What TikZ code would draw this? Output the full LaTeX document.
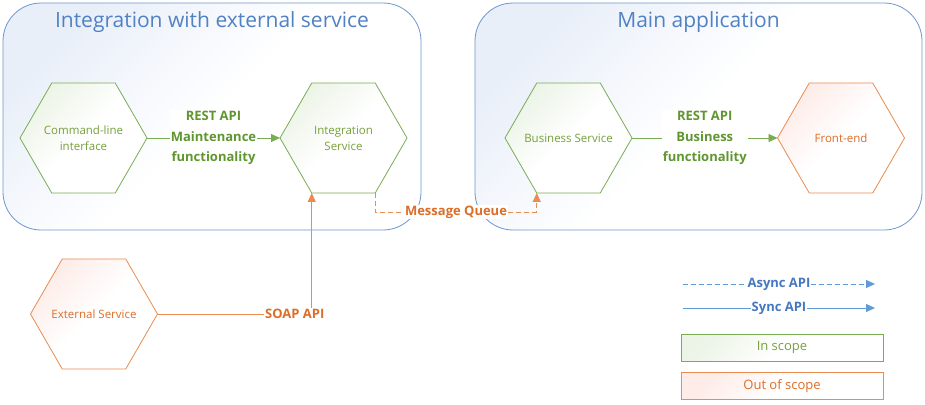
\documentclass[tikz,border=0pt]{standalone}
\usepackage{fontspec}
\setmainfont{Open Sans}
\usetikzlibrary{shapes.geometric,arrows.meta,positioning,calc}
\definecolor{grpblue}{RGB}{110,150,205}
\definecolor{titleblue}{RGB}{80,130,195}
\definecolor{grpfill}{RGB}{233,239,249}
\definecolor{scgreen}{RGB}{122,172,84}
\definecolor{lblgreen}{RGB}{96,150,48}
\definecolor{txtgreen}{RGB}{120,160,60}
\definecolor{scgreenfill}{RGB}{236,244,231}
\definecolor{scorange}{RGB}{232,140,80}
\definecolor{lblorange}{RGB}{220,110,40}
\definecolor{scorangefill}{RGB}{253,236,232}
\definecolor{apiblue}{RGB}{95,155,215}
\definecolor{apitext}{RGB}{70,120,190}

\begin{document}
\begin{tikzpicture}[x=1pt, y=-1pt,
  group/.style={draw=grpblue, line width=0.8pt, rounded corners=38pt, top color=grpfill, bottom color=white, middle color=white, shading angle=45, inner sep=0pt},
  grouptitle/.style={text=titleblue, font=\fontsize{21}{25}\selectfont},
  hexnode/.style={regular polygon, regular polygon sides=6, minimum size=127pt, inner sep=0pt, inner xsep=-25pt, outer sep=0pt, line width=0.8pt, align=center, font=\fontsize{11.5}{16}\selectfont},
  insc/.style={draw=scgreen, text=txtgreen, top color=scgreenfill, bottom color=white, middle color=white, shading angle=45},
  outsc/.style={draw=scorange, text=lblorange, top color=scorangefill, bottom color=white, middle color=white, shading angle=45},
  apilabel/.style={fill=white, inner sep=1pt, font=\bfseries\fontsize{13}{20.5}\selectfont, align=center},
  tip/.style={-{Triangle[length=9pt,width=8pt]}},
]
\useasboundingbox (0,0) rectangle (925,404);

 % groups
 \node[group, minimum width=418pt, minimum height=227pt] (intgrp) at (212,116.5) {};
 \node[group, minimum width=447pt, minimum height=227pt] (maingrp) at (698.5,116.5) {};
 \node[grouptitle] (inttitle) at (212,22) {Integration with external service};
 \node[grouptitle] (maintitle) at (698.5,22) {Main application};

 % services
 \foreach \n/\x/\y/\sc/\txt in {cli/83.5/138/insc/{Command-line\\interface},
     intsvc/343.5/138/insc/{Integration\\Service}, bizsvc/568.5/138/insc/{Business Service},
     front/841/138/outsc/{Front-end}, extsvc/94/314/outsc/{External Service}} {
   \node[hexnode, \sc] (\n) at (\x,\y) {\txt};
 }

 % lines
 \draw[scgreen, line width=0.8pt, tip] (cli.east) -- node[apilabel, text=lblgreen] {REST API\\Maintenance\\functionality} (intsvc.west);
 \draw[scgreen, line width=0.8pt, tip] (bizsvc.east) -- node[apilabel, text=lblgreen] {REST API\\Business\\functionality} (front.west);
 \draw[scorange, line width=0.8pt, dash pattern=on 5pt off 3pt, tip] (intsvc.300) -- ++(0,19) -| node[apilabel, text=lblorange, pos=0.25] {Message Queue} (bizsvc.240);
 \draw[scorange, line width=0.8pt, tip] (extsvc.east) -| node[apilabel, text=lblorange, pos=0.5, xshift=-17pt] {SOAP API} (intsvc.240);

 % legend
 \coordinate (async0) at (683,284);
 \coordinate (async1) at (875,284);
 \coordinate (sync0) at (683,308);
 \coordinate (sync1) at (875,308);
 \draw[apiblue, line width=0.8pt, dash pattern=on 5pt off 3pt, tip] (async0) -- node[apilabel, text=apitext, font=\bfseries\fontsize{13}{15}\selectfont] {Async API} (async1);
 \draw[apiblue, line width=0.8pt, tip] (sync0) -- node[apilabel, text=apitext, font=\bfseries\fontsize{13}{15}\selectfont] {Sync API} (sync1);
 \node[insc, line width=0.8pt, minimum width=202pt, minimum height=27pt, font=\fontsize{13}{15}\selectfont] (inscope) at (782,347.5) {In scope};
 \node[outsc, line width=0.8pt, minimum width=202pt, minimum height=27pt, font=\fontsize{13}{15}\selectfont] (outscope) at (782,386) {Out of scope};

\end{tikzpicture}
\end{document}
